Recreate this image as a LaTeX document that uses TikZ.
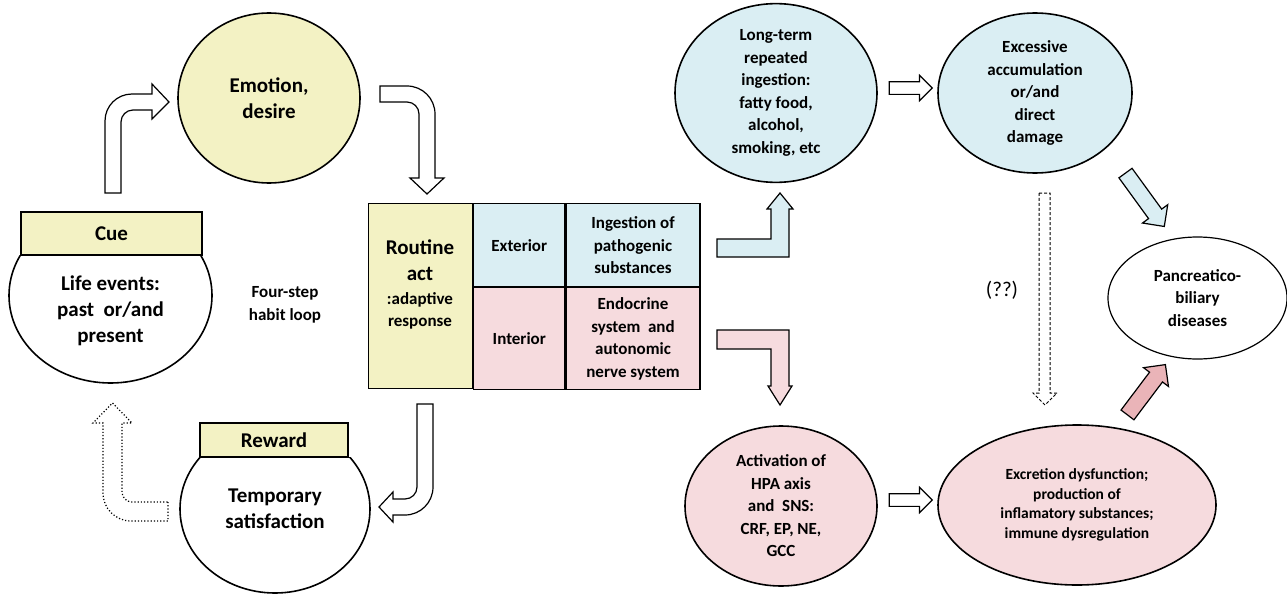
\documentclass[tikz,border=0pt]{standalone}
\usepackage{fontspec}
\setmainfont{Carlito}
\usetikzlibrary{shapes.geometric, shapes.arrows, positioning, calc}

\definecolor{yel}{RGB}{243,242,196}
\definecolor{blu}{RGB}{218,238,243}
\definecolor{pnk}{RGB}{246,219,222}
\definecolor{pnkdark}{RGB}{234,180,184}

\begin{document}
\begin{tikzpicture}[
    x=1pt, y=-1pt,
    big/.style={font=\fontsize{21}{26}\selectfont\bfseries, align=center},
    mid/.style={font=\fontsize{17}{22.5}\selectfont\bfseries, align=center},
    small/.style={font=\fontsize{15.5}{19.7}\selectfont\bfseries, align=center},
    oval/.style={ellipse, draw, line width=1.6pt, inner sep=0pt, align=center},
    tagbox/.style={rectangle, draw, fill=yel, line width=1.6pt, inner sep=0pt, big},
    cell/.style={rectangle, draw, line width=1.2pt, inner sep=0pt, mid},
    bent/.style={draw, fill=white, line width=1.2pt, line join=miter},
    sarrow/.style={single arrow, draw, line width=1.2pt, inner xsep=0pt},
]
    \useasboundingbox (0,0) rectangle (1287,594);

    % --- habit loop ---
    \node[oval, fill=yel, minimum width=182, minimum height=170, big] (emo) at (269,98) {Emotion,\\desire};

    \begin{scope}
        \clip (0,255) rectangle (300,400);
        \node[oval, fill=white, minimum width=203, minimum height=175] (cuebody) at (110.5,295.5) {};
    \end{scope}
    \node[tagbox, minimum width=181, minimum height=43] (cue) at (111.5,233.5) {Cue};
    \node[big] (cuetxt) at (110.5,311) {Life events:\\past\ \ or/and\\present};

    \begin{scope}
        \clip (150,457) rectangle (400,600);
        \node[oval, fill=white, minimum width=190, minimum height=168, big] (temp) at (275,509) {Temporary\\satisfaction};
    \end{scope}
    \node[tagbox, minimum width=148, minimum height=34] (rew) at (274,440) {Reward};

    \node[mid] (loop) at (285,305) {Four-step\\habit loop};

    % --- routine table ---
    \node[cell, fill=yel, minimum width=104, minimum height=185, anchor=north west] (rout) at (368,203) {};
    \node[cell, fill=blu, minimum width=91, minimum height=83, anchor=north west] (ext) at (rout.north east) {Exterior};
    \node[cell, fill=blu, minimum width=134, minimum height=83, anchor=north west] (ingest) at (ext.north east) {Ingestion of\\pathogenic\\substances};
    \node[cell, fill=pnk, minimum width=91, minimum height=102, anchor=north west] (intr) at (ext.south west) {Interior};
    \node[cell, fill=pnk, minimum width=134, minimum height=102, anchor=north west] (endo) at (intr.north east) {Endocrine\\system\ \ and\\autonomic\\nerve system};
    \node[big] (routa) at (420,260) {Routine\\act};
    \node[mid] (routb) at (420,311) {:adaptive\\response};

    % bent arrows of the loop
    \draw[bent] (105,193) -- (105,121) .. controls (105,106) and (117,94) .. (132,94) -- (152,94)
        -- (152,84) -- (169,102) -- (152,119) -- (152,110) -- (133,110)
        .. controls (126.4,110) and (121,115.4) .. (121,122) -- (121,193) -- cycle;
    \draw[bent] (380,86) -- (407,86) .. controls (422.5,86) and (435,98.5) .. (435,114) -- (435,178)
        -- (444,178) -- (427,194) -- (410,178) -- (419,178) -- (419,114)
        .. controls (419,107.4) and (413.6,102) .. (407,102) -- (380,102) -- cycle;
    \draw[bent] (417,404) -- (433,404) -- (433,487) .. controls (433,502.5) and (420.5,515) .. (405,515)
        -- (393,515) -- (393,522) -- (379,507) -- (393,492) -- (393,499) -- (405,499)
        .. controls (411.6,499) and (417,493.6) .. (417,487) -- cycle;
    \draw[bent, dotted] (168,502) -- (168,521) -- (131,521) .. controls (115.5,521) and (103,508.5) .. (103,493)
        -- (103,423) -- (93,423) -- (112.5,403) -- (132,423) -- (122,423) -- (122,492)
        .. controls (122,497.5) and (126.5,502) .. (132,502) -- cycle;

    % --- pathways ---
    \node[oval, fill=blu, minimum width=202, minimum height=160, mid] (lterm) at (776,93) {Long-term\\repeated\\ingestion:\\fatty food,\\alcohol,\\smoking, etc};
    \node[oval, fill=blu, minimum width=194, minimum height=160, mid] (accum) at (1035,93) {Excessive\\accumulation\\or/and\\direct\\damage};
    \node[oval, fill=pnk, minimum width=192, minimum height=160, mid] (hpa) at (781,506) {Activation of\\HPA axis\\and\ \ SNS:\\CRF, EP, NE,\\GCC};
    \node[oval, fill=pnk, minimum width=278, minimum height=160, small] (excr) at (1077,505) {Excretion dysfunction;\\production of\\inflamatory substances;\\immune dysregulation};
    \node[oval, fill=white, line width=1.2pt, minimum width=179, minimum height=122, mid] (panc) at (1197.5,298) {Pancreatico-\\biliary\\diseases};
    \node[font=\fontsize{21}{25}\selectfont] (qq) at (1002,290) {(??)};

    \draw[bent, fill=blu] (717,239) -- (771,239) -- (771,209) -- (767,209) -- (780,193) -- (793,209)
        -- (789,209) -- (789,257) -- (717,257) -- cycle;
    \draw[bent, fill=pnk] (717,330) -- (789,330) -- (789,386) -- (792,386) -- (780,405) -- (768,386)
        -- (771,386) -- (771,349) -- (717,349) -- cycle;

    \node[sarrow, fill=white, inner ysep=5.75pt, minimum height=43, single arrow head extend=6.25] (a1) at (907.5,88) {};
    \node[sarrow, fill=white, inner ysep=5.75pt, minimum height=43, single arrow head extend=6.25] (a2) at (907.5,500) {};
    \node[sarrow, fill=blu, inner ysep=7.5pt, minimum height=66, single arrow head extend=7.5, rotate=-54] (a3) at (1142.5,196.5) {};
    \node[sarrow, fill=pnkdark, inner ysep=7.5pt, minimum height=63, single arrow head extend=7.5, rotate=53] (a4) at (1144,393) {};

    \draw[bent, dashed, line width=1pt, dash pattern=on 3pt off 2pt] (1039,193) -- (1050,193) -- (1050,393)
        -- (1057,393) -- (1045,405) -- (1033,393) -- (1039,393) -- cycle;
\end{tikzpicture}
\end{document}
